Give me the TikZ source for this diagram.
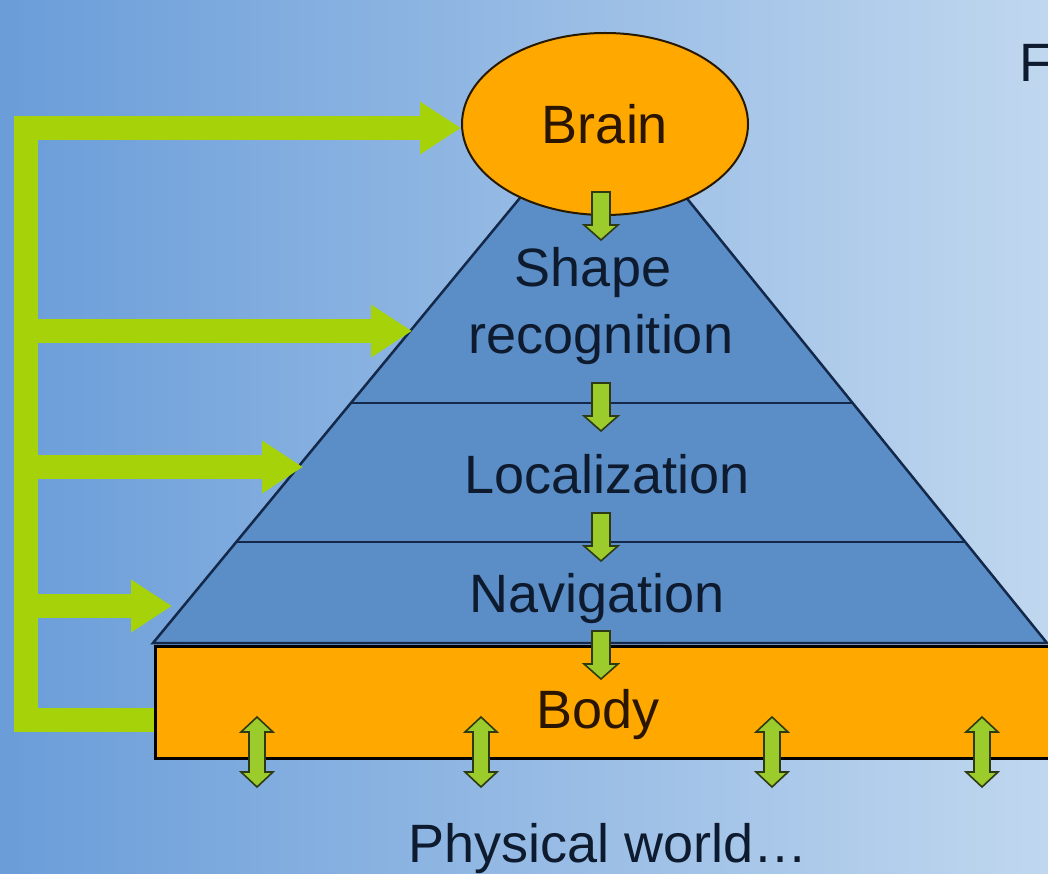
\documentclass[tikz,border=0pt]{standalone}
\usepackage{fontspec}
\setmainfont{Liberation Sans}
\usetikzlibrary{arrows.meta,calc,shapes.geometric}

\definecolor{bgleft}{HTML}{6A9DD9}
\definecolor{bgmid}{HTML}{8DB6E5}
\definecolor{bgright}{HTML}{C0D7EF}
\definecolor{pyrfill}{HTML}{5B8DC6}
\definecolor{pyrline}{HTML}{14284A}
\definecolor{orangefill}{HTML}{FFA800}
\definecolor{feedgreen}{HTML}{A6D20A}
\definecolor{arrgreen}{HTML}{9CCC2C}
\definecolor{arredge}{HTML}{2E3A14}
\definecolor{inktext}{HTML}{0E1A2E}
\definecolor{browntext}{HTML}{2A1600}

\begin{document}
\begin{tikzpicture}[x=1pt,y=-1pt,
  txt/.style={font=\fontsize{54}{65}\selectfont, text=inktext, inner sep=0pt, anchor=base},
  pyr/.style={fill=pyrfill, draw=pyrline, line width=2.5pt, line join=miter},
  divider/.style={draw=pyrline, line width=2.5pt},
  feed/.style={draw=feedgreen, line width=24pt, line join=miter,
    -{Triangle[width=50pt,length=41pt]}},
  blockarrow/.style={fill=arrgreen, draw=arredge, line width=1.6pt, line join=miter},
  downarr/.pic={\path[blockarrow] (-9,0) -- (9,0) -- (9,33) -- (17,33) -- (0,48)
      -- (-17,33) -- (-9,33) -- cycle;},
  dblarr/.pic={\path[blockarrow] (0,0) -- (16,15) -- (8,15) -- (8,55) -- (16,55)
      -- (0,70) -- (-16,55) -- (-8,55) -- (-8,15) -- (-16,15) -- cycle;}
]
\useasboundingbox (0,0) rectangle (1048,874);
\clip (0,0) rectangle (1048,874);

% backdrop
\shade[left color=bgleft, middle color=bgmid, right color=bgright]
  (0,0) rectangle (1048,874);

% pyramid of layers
\coordinate (apx) at (604,96);
\coordinate (bl) at (153,643);
\coordinate (br) at (1047,643);
\path[pyr] (bl) -- (apx) -- (br) -- cycle;
\draw[divider] ($(apx)!0.5612!(bl)$) -- ($(apx)!0.5612!(br)$);
\draw[divider] ($(apx)!0.8154!(bl)$) -- ($(apx)!0.8154!(br)$);

% body slab
\node[draw=black, fill=orangefill, line width=2.5pt, minimum width=920pt,
  minimum height=112pt, anchor=north west, inner sep=0pt] (body) at (154,645) {};

% brain
\node[ellipse, draw=black!85!orangefill, fill=orangefill, line width=2pt,
  minimum width=286pt, minimum height=182pt, inner sep=0pt,
  font=\fontsize{54}{65}\selectfont, text=browntext] (brain) at (605,124) {Brain};

% feedback from the body to every layer
\coordinate (trunkbot) at (26,720);
\coordinate (trunktop) at (26,128);
\coordinate (t1) at (412,331);
\coordinate (t2) at (303,467);
\coordinate (t3) at (172,606);
\draw[feed] (body.west |- trunkbot) -- (trunkbot) -- (trunktop)
  -- ([yshift=-4pt]brain.west);
\draw[feed] (trunkbot |- t1) -- (t1);
\draw[feed] (trunkbot |- t2) -- (t2);
\draw[feed] (trunkbot |- t3) -- (t3);

% top-down flow between layers
\pic at (601,192) {downarr};
\pic at (601,383) {downarr};
\pic at (601,513) {downarr};
\pic at (601,631) {downarr};

% exchange between body and world
\pic at (257,717) {dblarr};
\pic at (481,717) {dblarr};
\pic at (772,717) {dblarr};
\pic at (982,717) {dblarr};

% labels
\node[txt] (shape) at (593,287) {Shape};
\node[txt] (recog) at (601,353) {recognition};
\node[txt] (local) at (607,493) {Localization};
\node[txt] (navig) at (597,612) {Navigation};
\node[txt, text=browntext] (bodytxt) at (598,728) {Body};
\node[txt] (world) at (608,862) {Physical world…};
\node[txt, anchor=base west] (cut) at (1019,82) {F};
\end{tikzpicture}
\end{document}
